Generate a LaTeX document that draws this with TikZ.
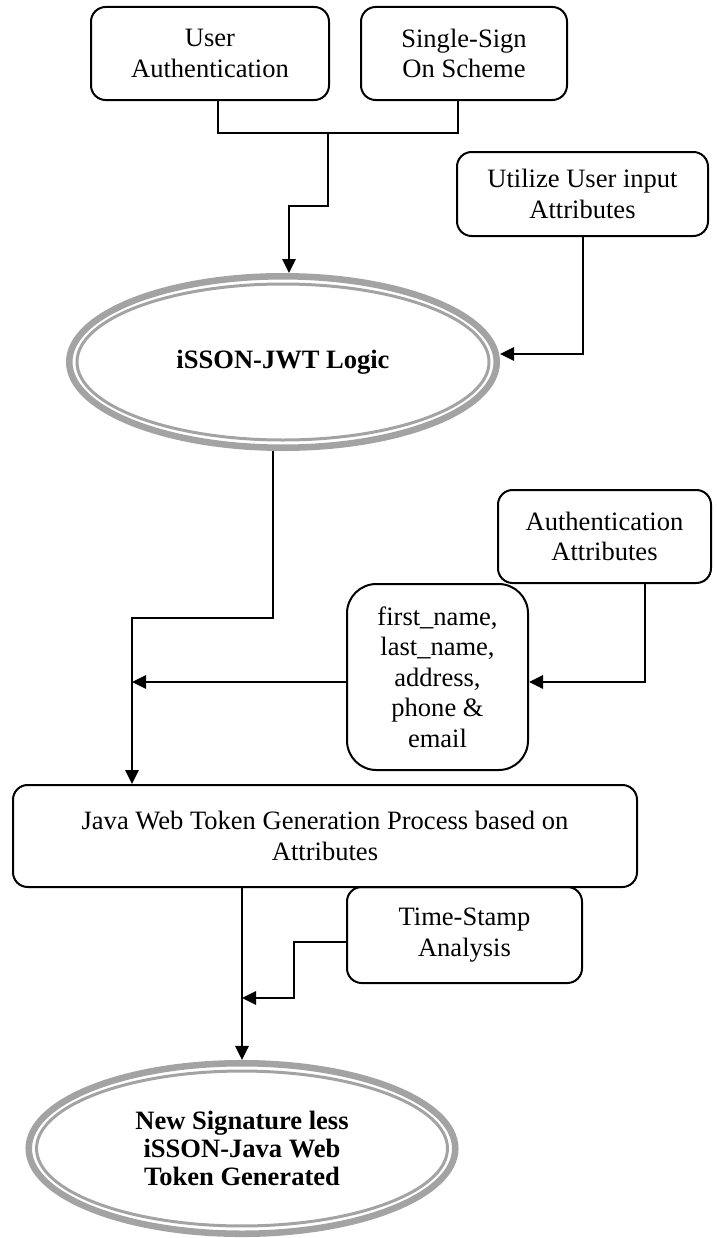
\documentclass[tikz,border=0pt]{standalone}
\usepackage{fontspec}
\setmainfont{Liberation Serif}
\usetikzlibrary{arrows.meta,shapes.geometric}
\definecolor{ringgray}{RGB}{163,163,163}
\newcommand{\boxfont}{\fontsize{19.9pt}{22.9pt}\selectfont}
\newcommand{\goalfont}{\bfseries\fontsize{19.9pt}{21pt}\selectfont}

\tikzset{
  box/.style={draw, rounded corners=11pt, line width=1.5pt, align=center, inner sep=0pt, font=\boxfont},
  goal/.style={ellipse, draw=ringgray, line width=4.9pt, inner sep=0pt, align=center, font=\goalfont},
  ring/.style={draw=ringgray, line width=2.25pt},
  link/.style={line width=1.5pt},
  arr/.style={line width=1.5pt, -{Triangle[length=10.5pt,width=10pt]}}
}

\begin{document}
\begin{tikzpicture}[x=0.75pt,y=-0.75pt]
\useasboundingbox (0,0) rectangle (717,1238);

% inputs
\node[box, minimum width=178.5pt, minimum height=69.75pt] (ua) at (210,53.5) {User\\Authentication};
\node[box, minimum width=154.5pt, minimum height=69.75pt] (sso) at (464,53.5) {Single-Sign\\On Scheme};
\node[box, minimum width=188.25pt, minimum height=63pt] (util) at (582.5,194) {Utilize User input\\Attributes};

% logic ellipse
\node[goal, minimum width=320.6pt, minimum height=128.6pt] (logic) at (283,362) {\raisebox{-3.5pt}{iSSON-JWT Logic}};
\draw[ring] (logic.center) ellipse [x radius=154.5pt, y radius=58.5pt];

\node[box, minimum width=159.75pt, minimum height=69.75pt] (auth) at (604.5,536.5) {Authentication\\Attributes};
\node[box, rounded corners=22pt, minimum width=135.75pt, minimum height=139.5pt] (attrs) at (437.5,677) {first\_name,\\last\_name,\\address,\\phone \&\\email};

\node[box, minimum width=468pt, minimum height=76.5pt] (jwt) at (325,836) {Java Web Token Generation Process based on\\Attributes};
\node[box, minimum width=176.25pt, minimum height=72pt] (stamp) at (464.5,935) {Time-Stamp\\Analysis};

% output ellipse
\node[goal, minimum width=319.9pt, minimum height=127.9pt] (token) at (242,1148.5) {New Signature less\\iSSON-Java Web\\Token Generated};
\draw[ring] (token.center) ellipse [x radius=154.1pt, y radius=58.1pt];

% connectors
\coordinate (j1) at (328,133);
\coordinate (j2) at (289,206);
\draw[link] ([xshift=6pt]ua.south) |- (j1) -| ([xshift=-4.5pt]sso.south);
\draw[arr] (j1) |- (j2) -- (j2 |- logic.north);
\draw[arr] (util.south) |- ([yshift=6pt]logic.east);

\coordinate (k1) at (132,618);
\draw[arr] ([xshift=-7.5pt]logic.south) |- (k1) -- (k1 |- jwt.north);
\coordinate (m1) at ([yshift=-3.75pt]attrs.west);
\coordinate (m2) at ([yshift=-3.75pt]attrs.east);
\draw[arr] ([xshift=30pt]auth.south) |- (m2);
\draw[arr] (m1) -- (m1 -| k1);

\coordinate (t1) at ([yshift=-5.25pt]stamp.west);
\coordinate (s1) at (294,998);
\draw[arr] (token.north |- jwt.south) -- (token.north);
\draw[arr] (t1) -| (s1) -- (s1 -| token.north);
\end{tikzpicture}
\end{document}
